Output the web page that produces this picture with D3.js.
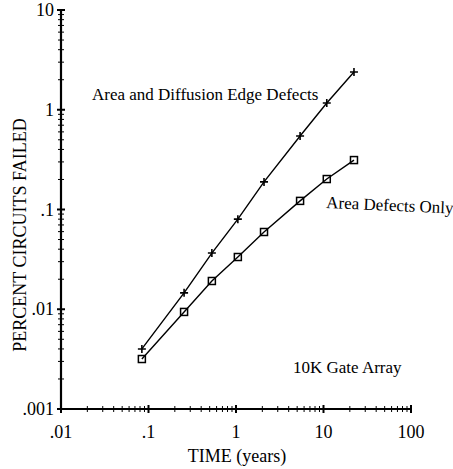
<!DOCTYPE html>
<html><head><meta charset="utf-8">
<script src="https://cdn.jsdelivr.net/npm/d3@7"></script>
<style>body{margin:0;background:#fff}svg{display:block}text{font-family:"Liberation Serif","Times New Roman",serif;fill:#000}</style>
</head><body><svg id="c" width="453" height="469"></svg>
<script>
const timeYears = [0.084, 0.255, 0.53, 1.05, 2.09, 5.4, 10.9, 22.3];
const edgeDefects = [0.0040, 0.0146, 0.0366, 0.080, 0.189, 0.545, 1.17, 2.39];
const areaOnly = [0.00317, 0.0094, 0.0192, 0.0334, 0.0595, 0.122, 0.202, 0.313];
const xTickValues = [0.01, 0.1, 1, 10, 100];
const xTickLabels = [".01", ".1", "1", "10", "100"];
const yTickValues = [0.001, 0.01, 0.1, 1, 10];
const yTickLabels = [".001", ".01", ".1", "1", "10"];

const svg = d3.select("#c");
const x = d3.scaleLog().domain([0.01, 100]).range([61, 411]);
const y = d3.scaleLog().domain([0.001, 10]).range([409, 10]);

const minorX = [], minorY = [];
for (let d = 0.01; d < 100; d *= 10) for (let k = 2; k <= 9; k++) minorX.push(d * k);
for (let d = 0.001; d < 10; d *= 10) for (let k = 2; k <= 9; k++) minorY.push(d * k);

const g = svg.append("g");
g.append("line").attr("x1", x(0.01)).attr("x2", x(100)).attr("y1", y(0.001)).attr("y2", y(0.001)).attr("stroke", "#000").attr("stroke-width", 2.2);
g.append("line").attr("x1", x(0.01)).attr("x2", x(0.01)).attr("y1", y(0.001)).attr("y2", y(10)).attr("stroke", "#000").attr("stroke-width", 2.2);

g.selectAll(".mx").data(minorX).join("line")
  .attr("x1", d => x(d)).attr("x2", d => x(d))
  .attr("y1", y(0.001) - 3).attr("y2", y(0.001) + 3).attr("stroke", "#000").attr("stroke-width", 1);
g.selectAll(".Mx").data(xTickValues).join("line")
  .attr("x1", d => x(d)).attr("x2", d => x(d))
  .attr("y1", y(0.001) - 4).attr("y2", y(0.001) + 4).attr("stroke", "#000").attr("stroke-width", 2);
g.selectAll(".my").data(minorY).join("line")
  .attr("y1", d => y(d)).attr("y2", d => y(d))
  .attr("x1", x(0.01) - 3).attr("x2", x(0.01) + 3).attr("stroke", "#000").attr("stroke-width", 1);
g.selectAll(".My").data(yTickValues).join("line")
  .attr("y1", d => y(d)).attr("y2", d => y(d))
  .attr("x1", x(0.01) - 4).attr("x2", x(0.01) + 4).attr("stroke", "#000").attr("stroke-width", 2);

g.selectAll(".lx").data(xTickValues).join("text")
  .attr("x", d => x(d)).attr("y", 438).attr("text-anchor", "middle")
  .style("font-size", "18px").text((d, i) => xTickLabels[i]);
g.selectAll(".ly").data(yTickValues).join("text")
  .attr("x", 54).attr("y", d => y(d) + 6).attr("text-anchor", "end")
  .style("font-size", "18px").text((d, i) => yTickLabels[i]);

svg.append("text").attr("x", 237).attr("y", 462).attr("text-anchor", "middle").style("font-size", "18px").text("TIME (years)");
svg.append("text").attr("transform", "translate(26,235) rotate(-90)").attr("text-anchor", "middle").style("font-size", "18px").text("PERCENT CIRCUITS FAILED");

const line = (vals) => d3.line().x((d, i) => x(timeYears[i])).y(d => y(d))(vals);
svg.append("path").attr("d", line(edgeDefects)).attr("fill", "none").attr("stroke", "#000").attr("stroke-width", 1.4);
svg.append("path").attr("d", line(areaOnly)).attr("fill", "none").attr("stroke", "#000").attr("stroke-width", 1.4);

svg.selectAll(".plus").data(edgeDefects).join("path")
  .attr("d", (d, i) => { const cx = x(timeYears[i]), cy = y(d); return `M${cx-4},${cy}H${cx+4}M${cx},${cy-4}V${cy+4}`; })
  .attr("stroke", "#000").attr("stroke-width", 1.6);
svg.selectAll(".sq").data(areaOnly).join("rect")
  .attr("x", (d, i) => x(timeYears[i]) - 3.5).attr("y", d => y(d) - 3.5)
  .attr("width", 7).attr("height", 7).attr("fill", "none").attr("stroke", "#000").attr("stroke-width", 1.5);

svg.append("text").attr("x", 92).attr("y", 100).style("font-size", "17px").text("Area and Diffusion Edge Defects");
svg.append("text").attr("transform", "translate(326,208) rotate(2.5)").style("font-size", "17px").text("Area Defects Only");
svg.append("text").attr("x", 293).attr("y", 373).style("font-size", "17px").text("10K Gate Array");
</script></body></html>
